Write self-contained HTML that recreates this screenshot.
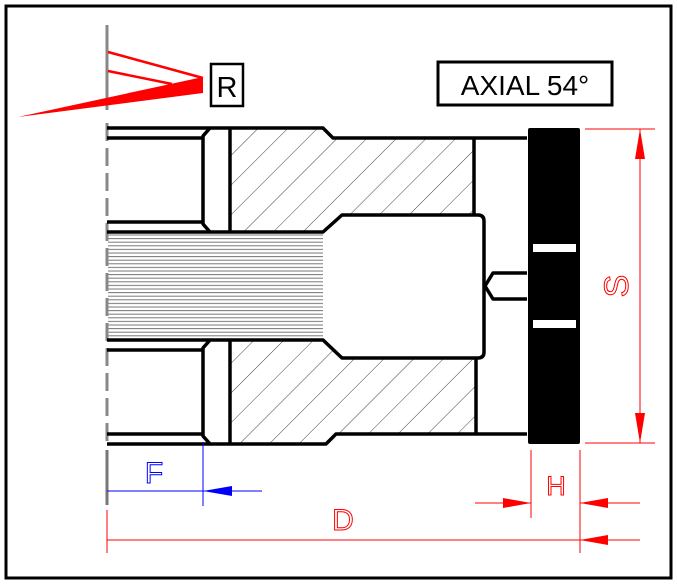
<!DOCTYPE html>
<html><head><style>html,body{margin:0;padding:0;background:#fff}svg{display:block}</style></head><body>
<svg width="677" height="584" viewBox="0 0 677 584" xmlns="http://www.w3.org/2000/svg" font-family="Liberation Sans, sans-serif">
<defs>
<pattern id="hatch" patternUnits="userSpaceOnUse" width="21" height="21" patternTransform="rotate(45)">
<line x1="0" y1="0" x2="0" y2="21" stroke="#444" stroke-width="1"/>
</pattern>
<pattern id="thr" patternUnits="userSpaceOnUse" width="10" height="3.6">
<line x1="0" y1="1" x2="10" y2="1" stroke="#777" stroke-width="1"/>
</pattern>
</defs>
<rect x="6" y="6" width="665" height="572" fill="none" stroke="#000" stroke-width="3"/>
<polygon points="230,128 323,128 333,138 474,138 474,215 342,215 323,232 230,232" fill="url(#hatch)"/>
<polygon points="230,340 323,340 342,358 477,358 477,434 336,434 326,444 230,444" fill="url(#hatch)"/>
<rect x="108" y="234" width="215" height="104" fill="url(#thr)"/>
<g stroke="#888" stroke-width="3">
<line x1="107" y1="25" x2="107" y2="110"/>
<line x1="107" y1="123" x2="107" y2="445" stroke-dasharray="18 7"/>
<line x1="107" y1="450" x2="107" y2="505" stroke="#777"/>
</g>
<g fill="none" stroke="#000" stroke-width="3.5" stroke-linejoin="round">
<polyline points="107,128 323,128 333,138 527,138"/>
<polyline points="107,138 203,138"/>
<polyline points="210,128 203,136 203,224 210,232"/>
<line x1="230" y1="128" x2="230" y2="232"/>
<line x1="107" y1="222" x2="203" y2="222"/>
<path d="M107,232 L323,232 L342,215 L478,215 Q484,215 484,221 L484,352 Q484,358 478,358 L342,358 L323,340 L107,340"/>
<line x1="474" y1="138" x2="474" y2="215"/>
<line x1="107" y1="350" x2="203" y2="350"/>
<polyline points="210,340 203,348 203,436 210,444"/>
<line x1="230" y1="340" x2="230" y2="444"/>
<line x1="107" y1="434" x2="203" y2="434"/>
<polyline points="107,444 326,444 336,434 527,434"/>
<line x1="476" y1="358" x2="476" y2="434"/>
<polyline points="527,273 493,273 485,286 493,299 527,299"/>
</g>
<rect x="528" y="128" width="52" height="316" rx="2" fill="#000"/>
<rect x="533" y="244" width="43" height="8" fill="#fff"/>
<rect x="533" y="320" width="43" height="8" fill="#fff"/>
<g stroke="red" stroke-width="2.5" fill="none">
<line x1="108" y1="52" x2="203" y2="78"/>
<line x1="108" y1="71" x2="172" y2="84"/>
</g>
<polygon points="18,117 203,77 203,93" fill="red"/>
<rect x="211" y="64" width="32" height="42" fill="#fff" stroke="#000" stroke-width="2.5"/>
<text x="227" y="97" font-size="29" text-anchor="middle">R</text>
<rect x="438" y="62" width="174" height="43" fill="#fff" stroke="#000" stroke-width="3"/>
<text x="525" y="95" font-size="28" text-anchor="middle">AXIAL 54°</text>
<g stroke="red" stroke-width="1" fill="none">
<line x1="585" y1="129" x2="655" y2="129"/>
<line x1="585" y1="443" x2="655" y2="443"/>
<line x1="640" y1="129" x2="640" y2="443"/>
<line x1="531" y1="450" x2="531" y2="518"/>
<line x1="580" y1="450" x2="580" y2="553"/>
<line x1="475" y1="503" x2="531" y2="503"/>
<line x1="580" y1="503" x2="640" y2="503"/>
<line x1="107" y1="510" x2="107" y2="553"/>
<line x1="107" y1="540" x2="640" y2="540"/>
</g>
<g fill="red">
<polygon points="640,129 635,159 645,159"/>
<polygon points="640,443 635,413 645,413"/>
<polygon points="531,503 503,498 503,508"/>
<polygon points="580,503 608,498 608,508"/>
<polygon points="580,540 608,535 608,545"/>
</g>
<text transform="translate(628,286) rotate(-90)" font-size="34" text-anchor="middle" fill="none" stroke="red" stroke-width="1">S</text>
<text x="556" y="495" font-size="27" text-anchor="middle" fill="none" stroke="red" stroke-width="1">H</text>
<text x="343" y="530" font-size="30" text-anchor="middle" fill="none" stroke="red" stroke-width="1">D</text>
<g stroke="blue" stroke-width="1">
<line x1="203" y1="442" x2="203" y2="506"/>
<line x1="107" y1="491" x2="262" y2="491"/>
</g>
<polygon points="203,491 232,486 232,496" fill="blue"/>
<text x="154" y="483" font-size="30" text-anchor="middle" fill="none" stroke="blue" stroke-width="1">F</text>
</svg>
</body></html>
